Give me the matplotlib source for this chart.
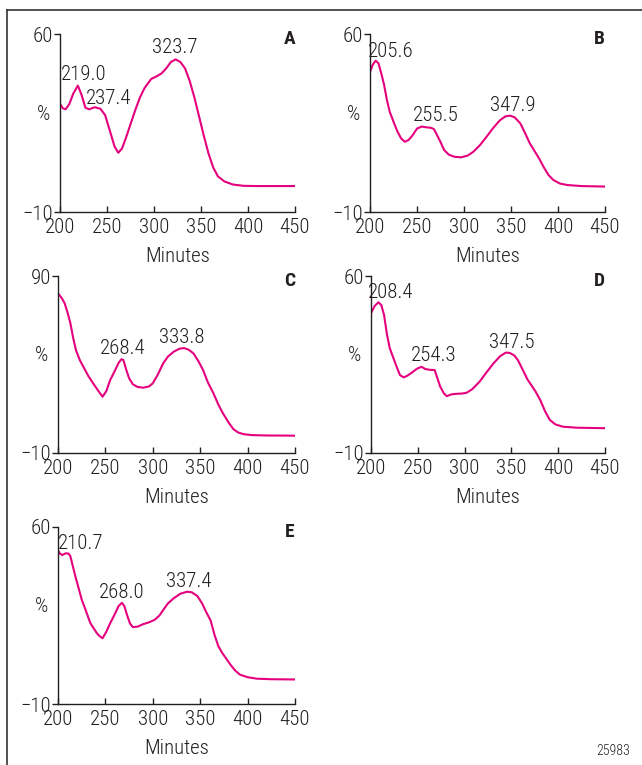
import numpy as np
import matplotlib
matplotlib.use("Agg")
import matplotlib.pyplot as plt
from matplotlib.lines import Line2D

plt.rcParams['font.family'] = ['Roboto Condensed', 'Liberation Sans Narrow',
                               'DejaVu Sans']
plt.rcParams['font.stretch'] = 'condensed'
plt.rcParams['font.weight'] = 'light'

# ---- data ------------------------------------------------------------------
xA = [200, 203, 206, 210, 214, 219, 223, 227, 231, 237, 243, 248, 253, 258, 262,
      266, 270, 275, 280, 285, 290, 297, 303, 308, 313, 318, 323, 328, 333, 338,
      343, 348, 353, 358, 363, 368, 375, 384, 395, 410, 450]
yA = [32.5, 30.8, 30.4, 32.5, 36.5, 39.7, 36.0, 31.0, 30.4, 31.2, 30.6, 28.1, 22.0,
      15.8, 13.3, 15.0, 19.0, 24.5, 30.0, 35.0, 38.8, 42.3, 43.4, 44.5, 46.5, 49.0,
      50.0, 49.0, 46.5, 41.5, 35.0, 27.5, 20.0, 13.0, 7.5, 4.0, 2.0, 0.8, 0.3, 0.2, 0.2]

xB = [200, 203, 206, 209, 212, 215, 218, 221, 225, 229, 233, 237, 241, 245, 250,
      255, 260, 265, 268, 271, 275, 279, 284, 290, 297, 304, 310, 317, 324, 331,
      338, 344, 349, 354, 360, 365, 370, 375, 380, 385, 390, 395, 402, 410, 425, 450]
yB = [45.1, 48.0, 49.5, 48.5, 44.5, 40.0, 34.0, 29.4, 25.5, 21.8, 19.0, 17.6, 18.3,
      20.0, 22.8, 23.6, 23.3, 23.1, 22.6, 20.5, 17.5, 14.3, 12.5, 11.7, 11.5, 12.2,
      13.7, 16.3, 19.6, 23.0, 26.0, 27.6, 27.9, 27.2, 24.8, 21.0, 17.0, 14.0, 11.0,
      7.5, 4.5, 2.6, 1.2, 0.6, 0.2, 0.0]

xC = [200, 204, 207, 210, 213, 216, 219, 223, 227, 232, 237, 242, 247, 251, 255,
      260, 264, 267, 269, 272, 275, 279, 284, 290, 296, 300, 305, 311, 316, 322,
      328, 333, 338, 343, 348, 353, 358, 364, 369, 374, 380, 385, 390, 396, 405,
      420, 450]
yC = [80.2, 77.5, 74.6, 69.5, 63.5, 55.0, 48.0, 42.5, 38.5, 33.5, 29.4, 25.5, 21.8,
      25.0, 31.2, 36.5, 41.0, 43.0, 42.5, 37.0, 32.2, 28.8, 27.3, 26.9, 27.6, 29.4,
      34.0, 40.7, 44.5, 47.2, 48.9, 49.3, 48.3, 46.2, 42.0, 36.9, 30.0, 23.7, 17.5,
      12.4, 7.2, 3.5, 1.6, 0.6, 0.1, -0.1, -0.2]

xD = [200, 204, 208, 211, 214, 217, 220, 224, 228, 231, 235, 239, 244, 249, 254,
      258, 263, 268, 271, 274, 278, 281, 286, 291, 297, 302, 308, 316, 323, 331,
      338, 344, 348, 353, 357, 362, 367, 371, 376, 381, 386, 391, 397, 405, 420, 450]
yD = [45.3, 48.2, 49.6, 48.5, 44.5, 37.0, 31.5, 27.5, 23.5, 20.8, 19.9, 20.6, 21.9,
      23.3, 24.1, 23.2, 22.9, 22.8, 19.5, 16.2, 13.5, 12.5, 13.2, 13.4, 13.5, 13.8,
      15.2, 18.2, 21.7, 25.5, 28.3, 29.7, 29.6, 28.6, 26.7, 23.0, 19.2, 17.0, 14.2,
      10.8, 6.5, 3.1, 1.3, 0.4, 0.0, -0.2]

xE = [200, 202, 204.5, 208, 211, 213, 216, 218.5, 222, 225, 229, 234, 237, 241,
      244, 247, 251, 255, 260, 264, 267.5, 270, 273, 276, 279, 284, 290, 296, 302,
      307, 311, 316, 322, 329, 336, 341, 347, 352, 356, 361, 365, 369, 373, 377,
      382, 387, 392, 400, 410, 425, 450]
yE = [50.8, 49.5, 48.9, 49.6, 49.5, 48.5, 44.0, 40.2, 35.5, 31.3, 27.3, 22.1, 20.3,
      18.0, 16.8, 16.0, 18.6, 21.9, 25.6, 28.8, 30.0, 28.7, 25.0, 21.8, 20.4, 20.6,
      21.6, 22.3, 23.3, 25.0, 27.2, 29.8, 31.8, 33.6, 34.4, 34.2, 32.7, 29.8, 26.6,
      23.0, 17.5, 13.0, 10.3, 8.2, 5.5, 3.2, 1.6, 0.6, 0.0, -0.2, -0.3]

# peak labels: text and where the text sits (data units)
labA = ["219.0", "237.4", "323.7"]
posA = [(225.5, 44.2), (252, 34.8), (322, 54.5)]
labB = ["205.6", "255.5", "347.9"]
posB = [(222.3, 53.3), (269.7, 28.1), (352, 32)]
labC = ["268.4", "333.8"]
posC = [(268.6, 49.3), (330.5, 55.1)]
labD = ["208.4", "254.3", "347.5"]
posD = [(221.4, 53.5), (267.3, 28.5), (350.6, 33.7)]
labE = ["210.7", "268.0", "337.4"]
posE = [(223.5, 53.6), (267.6, 34.2), (337.5, 38.5)]

xticks = [200, 250, 300, 350, 400, 450]

W, H = 642, 765
LINE = '#E5007E'
INK = '#231F20'
FS = 15

fig = plt.figure(figsize=(W / 100, H / 100), dpi=100)


def px_axes(l, t, r, b):
    return fig.add_axes([l / W, 1 - b / H, (r - l) / W, (b - t) / H])


def panel(rect, x, y, ytop, letter, labels, pos):
    ax = px_axes(*rect)
    ax.plot(x, y, color=LINE, lw=1.5, solid_joinstyle='round')
    ax.set_xlim(200, 450)
    ax.set_ylim(-10, ytop)
    ax.set_xticks(xticks)
    ax.set_yticks([-10, ytop])
    ax.set_yticklabels(["\u221210", str(ytop)])
    for s in ['top', 'right']:
        ax.spines[s].set_visible(False)
    for s in ['left', 'bottom']:
        ax.spines[s].set_linewidth(1.0)
        ax.spines[s].set_color(INK)
    ax.tick_params(axis='x', direction='in', length=4, width=1.0, pad=4.5,
                   labelsize=FS, colors=INK)
    ax.tick_params(axis='y', direction='out', length=4, width=1.0, pad=1,
                   labelsize=FS, colors=INK)
    ax.text(0.5, -0.25, "Minutes", transform=ax.transAxes, ha='center',
            va='center', fontsize=FS, color=INK)
    ax.text(-0.07, 0.55, "%", transform=ax.transAxes, ha='center',
            va='center', fontsize=FS, color=INK)
    ax.text(1.0, 1.02, letter, transform=ax.transAxes, ha='right', va='top',
            fontsize=14, fontweight='bold', color=INK)
    for t, (px, py) in zip(labels, pos):
        ax.text(px, py, t, ha='center', va='center', fontsize=FS, color=INK)
    return ax


panel((60, 34, 295, 212), xA, yA, 60, "A", labA, posA)
panel((370, 34, 605, 212), xB, yB, 60, "B", labB, posB)
panel((58, 276, 295, 453), xC, yC, 90, "C", labC, posC)
panel((371, 276, 605, 453), xD, yD, 60, "D", labD, posD)
panel((58, 527, 295, 704), xE, yE, 60, "E", labE, posE)

# outer frame (left and top edges show in the crop)
fig.add_artist(Line2D([7 / W, 7 / W], [0, 1 - 10 / H], transform=fig.transFigure,
                      color='#333333', lw=1.2))
fig.add_artist(Line2D([7 / W, 1], [1 - 10 / H, 1 - 10 / H], transform=fig.transFigure,
                      color='#333333', lw=1.2))

fig.text(613 / W, 1 - 751 / H, "25983", ha='center', va='center', fontsize=10,
         color=INK)

fig.savefig("out.png", dpi=100)
